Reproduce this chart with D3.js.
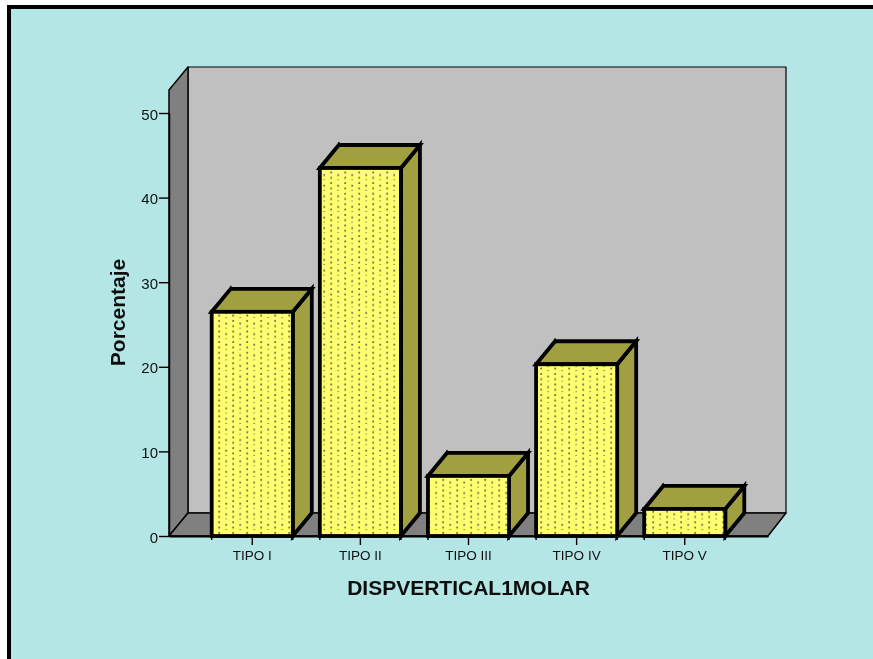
<!DOCTYPE html>
<html>
<head>
<meta charset="utf-8">
<script src="https://cdn.jsdelivr.net/npm/d3@7"></script>
<style>
  html, body { margin: 0; padding: 0; background: #fff; }
  svg { display: block; }
  text { font-family: "Liberation Sans", Arial, sans-serif; fill: #111; }
</style>
</head>
<body>
<div id="chart"></div>
<script>
(function () {
  'use strict';

  var categories = ['TIPO I', 'TIPO II', 'TIPO III', 'TIPO IV', 'TIPO V'];
  var percentages = [26.5, 43.5, 7.1, 20.3, 3.2];
  var yTicks = [0, 10, 20, 30, 40, 50];

  var width = 873;
  var height = 659;

  // depth of the fake 3d box
  var depthX = 19, depthY = -23;

  var x = d3.scaleBand().domain(categories).range([169, 768])
      .paddingInner(0.25).paddingOuter(0.395);
  var y = d3.scaleLinear().domain([0, 50]).range([536, 113]);

  var svg = d3.select('#chart')
      .append('svg')
      .attr('width', width)
      .attr('height', height);

  var defs = svg.append('defs');
  defs.append('filter')
      .attr('id', 'soft')
      .attr('filterUnits', 'userSpaceOnUse')
      .attr('x', 0).attr('y', 0).attr('width', width).attr('height', height)
      .append('feGaussianBlur')
      .attr('stdDeviation', 0.35);

  var dots = defs.append('pattern')
      .attr('id', 'dots')
      .attr('patternUnits', 'userSpaceOnUse')
      .attr('width', 14)
      .attr('height', 10.6);
  dots.append('rect').attr('width', 14).attr('height', 10.6).attr('fill', '#ffff70');
  [[8.3, 2], [8.3, 7.3], [1.3, 4.6], [1.3, 9.9]].forEach(function (p) {
    dots.append('rect')
        .attr('x', p[0]).attr('y', p[1])
        .attr('width', 1.8).attr('height', 1.8)
        .attr('fill', '#70704c');
  });

  var root = svg.append('g').attr('filter', 'url(#soft)');

  // panel with frame, it runs off the right and bottom of the picture
  root.append('rect')
      .attr('x', 9).attr('y', 7)
      .attr('width', width + 20).attr('height', height + 20)
      .attr('fill', '#b5e6e6')
      .attr('stroke', '#000')
      .attr('stroke-width', 4);

  var left = x.range()[0], right = x.range()[1];
  var front = y(50) + depthY, back = front + depthY, base = y(0);

  function poly(points, fill, sw) {
    return root.append('polygon')
        .attr('points', points.map(function (p) { return p.join(','); }).join(' '))
        .attr('fill', fill)
        .attr('stroke', '#000')
        .attr('stroke-width', sw)
        .attr('stroke-linejoin', 'round');
  }

  // back wall, side wall, floor
  poly([[left + depthX, back], [right + depthX - 1, back], [right + depthX - 1, base + depthY], [left + depthX, base + depthY]], '#c0c0c0', 1.2);
  poly([[left, front], [left + depthX, back], [left + depthX, base + depthY], [left, base]], '#808080', 1.5);
  poly([[left, base], [left + depthX, base + depthY], [right + depthX - 1, base + depthY], [right, base]], '#808080', 1.5);

  var barW = x.bandwidth();

  var bars = root.selectAll('.bar')
      .data(categories)
      .enter()
      .append('g')
      .attr('class', 'bar');

  // side
  bars.append('polygon')
      .attr('points', function (d, i) {
        var x1 = x(d) + barW, yt = y(percentages[i]);
        return [[x1, yt], [x1 + depthX, yt + depthY], [x1 + depthX, base + depthY], [x1, base]].join(' ');
      })
      .attr('fill', '#a0a040').attr('stroke', '#000').attr('stroke-width', 3.8);

  // top
  bars.append('polygon')
      .attr('points', function (d, i) {
        var x0 = x(d), yt = y(percentages[i]);
        return [[x0, yt], [x0 + depthX, yt + depthY], [x0 + barW + depthX, yt + depthY], [x0 + barW, yt]].join(' ');
      })
      .attr('fill', '#a0a040').attr('stroke', '#000').attr('stroke-width', 3.8);

  // front
  bars.append('rect')
      .attr('x', function (d) { return x(d); })
      .attr('y', function (d, i) { return y(percentages[i]); })
      .attr('width', barW)
      .attr('height', function (d, i) { return base - y(percentages[i]); })
      .attr('fill', 'url(#dots)')
      .attr('stroke', '#000')
      .attr('stroke-width', 3.8);

  // little spikes the old renderer leaves at the box corners
  bars.append('line')
      .attr('x1', function (d) { return x(d) + depthX; })
      .attr('x2', function (d) { return x(d) + depthX; })
      .attr('y1', function (d, i) { return y(percentages[i]) + depthY; })
      .attr('y2', function (d, i) { return y(percentages[i]) + depthY - 3; })
      .attr('stroke', '#000').attr('stroke-width', 1.5);
  bars.append('line')
      .attr('x1', function (d) { return x(d); })
      .attr('x2', function (d) { return x(d); })
      .attr('y1', base)
      .attr('y2', base + 4)
      .attr('stroke', '#000').attr('stroke-width', 1.5);
  bars.append('line')
      .attr('x1', function (d) { return x(d) + barW; })
      .attr('x2', function (d) { return x(d) + barW; })
      .attr('y1', base)
      .attr('y2', base + 4)
      .attr('stroke', '#000').attr('stroke-width', 1.5);

  // axes
  var yAxis = root.append('g')
      .attr('transform', 'translate(' + left + ',0)')
      .call(d3.axisLeft(y).tickValues(yTicks).tickSize(10).tickSizeOuter(0).tickPadding(1));
  var xAxis = root.append('g')
      .attr('transform', 'translate(0,' + base + ')')
      .call(d3.axisBottom(x).tickSize(9).tickSizeOuter(0).tickPadding(5));

  yAxis.select('.domain').attr('stroke-width', 1.5);
  xAxis.select('.domain').attr('stroke-width', 2);
  yAxis.selectAll('.tick line').attr('stroke-width', 1.4);
  xAxis.selectAll('.tick line').attr('stroke-width', 1.4);
  yAxis.selectAll('text').style('font-size', '15px').attr('dy', '.4em');
  xAxis.selectAll('text').style('font-size', '13.5px');

  root.append('text')
      .attr('x', 468.5).attr('y', 595)
      .attr('text-anchor', 'middle')
      .style('font-size', '21px')
      .style('font-weight', 'bold')
      .text('DISPVERTICAL1MOLAR');

  root.append('text')
      .attr('transform', 'translate(125,312.5) rotate(-90)')
      .attr('text-anchor', 'middle')
      .style('font-size', '21px')
      .style('font-weight', 'bold')
      .text('Porcentaje');
}());
</script>
</body>
</html>
